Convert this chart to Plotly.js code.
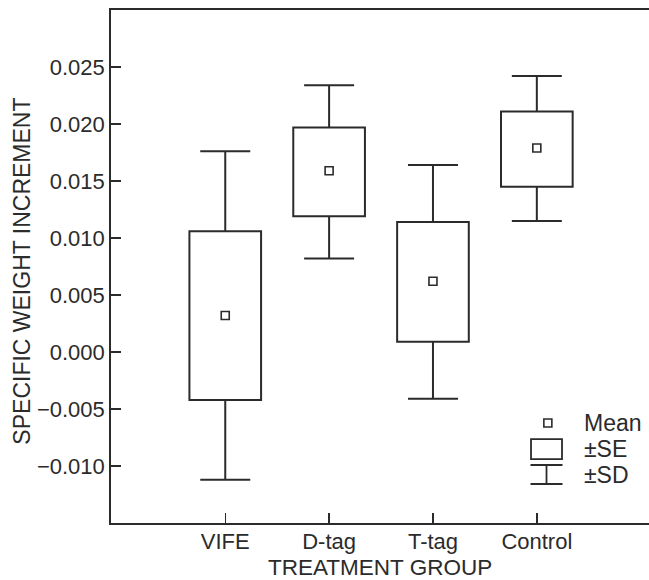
<!DOCTYPE html>
<html>
<head>
<meta charset="utf-8">
<script src="https://cdn.plot.ly/plotly-3.0.1.min.js"></script>
<style>html,body{margin:0;padding:0;background:#fff;}</style>
</head>
<body>
<div id="chart" style="width:649px;height:580px;"></div>
<script>
// ---- data ----
const groups   = ["VIFE", "D-tag", "T-tag", "Control"];
const meanVals = [0.0032, 0.0159, 0.0062, 0.0179];
const seLow    = [-0.0042, 0.0119, 0.0009, 0.0145];
const seHigh   = [0.0106, 0.0197, 0.0114, 0.0211];
const sdLow    = [-0.0112, 0.0082, -0.0041, 0.0115];
const sdHigh   = [0.0176, 0.0234, 0.0164, 0.0242];
const yTickVals = [-0.010, -0.005, 0.000, 0.005, 0.010, 0.015, 0.020, 0.025];

const pos = groups.map((g, i) => i);
const ink = "#2b2b2b";
const fontFam = "Liberation Sans, Arial, Helvetica, sans-serif";

// ±SD whiskers: invisible bars at the mean carrying asymmetric error bars
const sdTrace = {
  type: "bar",
  x: pos,
  y: meanVals,
  width: 0.69,
  marker: {color: "rgba(0,0,0,0)", line: {width: 0}},
  error_y: {
    type: "data", symmetric: false,
    array: sdHigh.map((v, i) => v - meanVals[i]),
    arrayminus: sdLow.map((v, i) => meanVals[i] - v),
    color: ink, thickness: 2, width: 25
  },
  hoverinfo: "skip", showlegend: false
};

// ±SE boxes: white bars from seLow to seHigh drawn over the whiskers
const seTrace = {
  type: "bar",
  x: pos,
  base: seLow,
  y: seHigh.map((v, i) => v - seLow[i]),
  width: 0.69,
  marker: {color: "#ffffff", line: {color: ink, width: 2}},
  hoverinfo: "skip", showlegend: false
};

const meanTrace = {
  type: "scatter",
  mode: "markers",
  x: pos,
  y: meanVals,
  marker: {symbol: "square-open", size: 8, color: ink, line: {width: 1.6, color: ink}},
  showlegend: false,
  hoverinfo: "skip"
};

// legend drawn by hand (paper coordinates)
const legX = 0.8095;
const shapes = [
  {type: "rect", xref: "paper", yref: "paper", xsizemode: "pixel", ysizemode: "pixel",
   xanchor: 0.812, yanchor: 0.195, x0: -4, x1: 4, y0: -4, y1: 4,
   line: {color: ink, width: 1.6}, fillcolor: "rgba(0,0,0,0)"},
  {type: "rect", xref: "paper", yref: "paper", xsizemode: "pixel", ysizemode: "pixel",
   xanchor: legX, yanchor: 0.1442, x0: -15.5, x1: 15.5, y0: -10, y1: 10,
   line: {color: ink, width: 1.8}, fillcolor: "rgba(0,0,0,0)"},
  {type: "line", xref: "paper", yref: "paper", xsizemode: "pixel", ysizemode: "pixel",
   xanchor: legX, yanchor: 0.0945, x0: -16, x1: 16, y0: 9.5, y1: 9.5,
   line: {color: ink, width: 1.8}},
  {type: "line", xref: "paper", yref: "paper", xsizemode: "pixel", ysizemode: "pixel",
   xanchor: legX, yanchor: 0.0945, x0: -16, x1: 16, y0: -9.5, y1: -9.5,
   line: {color: ink, width: 1.8}},
  {type: "line", xref: "paper", yref: "paper", xsizemode: "pixel", ysizemode: "pixel",
   xanchor: legX, yanchor: 0.0945, x0: 0, x1: 0, y0: -9.5, y1: 9.5,
   line: {color: ink, width: 1.8}}
];

const txt = (t, x, y, xa, size, rot) => ({
  text: t, xref: "paper", yref: "paper", x: x, y: y,
  xanchor: xa, yanchor: "middle", showarrow: false, textangle: rot || 0,
  font: {family: fontFam, size: size, color: ink}
});

const layout = {
  width: 649, height: 580,
  margin: {l: 111, r: 0, t: 10, b: 57},
  paper_bgcolor: "#fff", plot_bgcolor: "#fff",
  font: {family: fontFam, size: 22, color: ink},
  showlegend: false,
  barmode: "overlay",
  xaxis: {
    range: [-1.1, 4.08],
    tickvals: pos, ticktext: groups,
    ticks: "inside", ticklen: 10, tickwidth: 1.5, tickcolor: ink,
    showline: true, linecolor: ink, linewidth: 1.8, mirror: true,
    showgrid: false, zeroline: false,
    ticklabelstandoff: -2,
    tickfont: {size: 22}
  },
  yaxis: {
    range: [-0.015, 0.030],
    tickvals: yTickVals, tickformat: ".3f",
    ticks: "inside", ticklen: 10, tickwidth: 1.5, tickcolor: ink,
    showline: true, linecolor: ink, linewidth: 1.8, mirror: false,
    showgrid: false, zeroline: false,
    tickfont: {size: 22}
  },
  shapes: shapes,
  annotations: [
    txt("Mean", 0.8755, 0.195, "left", 23),
    txt("±SE", 0.8755, 0.1442, "left", 23),
    txt("±SD", 0.8755, 0.0945, "left", 23),
    txt("TREATMENT GROUP", 0.5, -0.0858, "center", 22.5),
    txt("SPECIFIC WEIGHT INCREMENT", -0.1654, 0.490, "center", 23, -90)
  ]
};

Plotly.newPlot("chart", [sdTrace, seTrace, meanTrace], layout, {displayModeBar: false, staticPlot: true});
</script>
</body>
</html>
